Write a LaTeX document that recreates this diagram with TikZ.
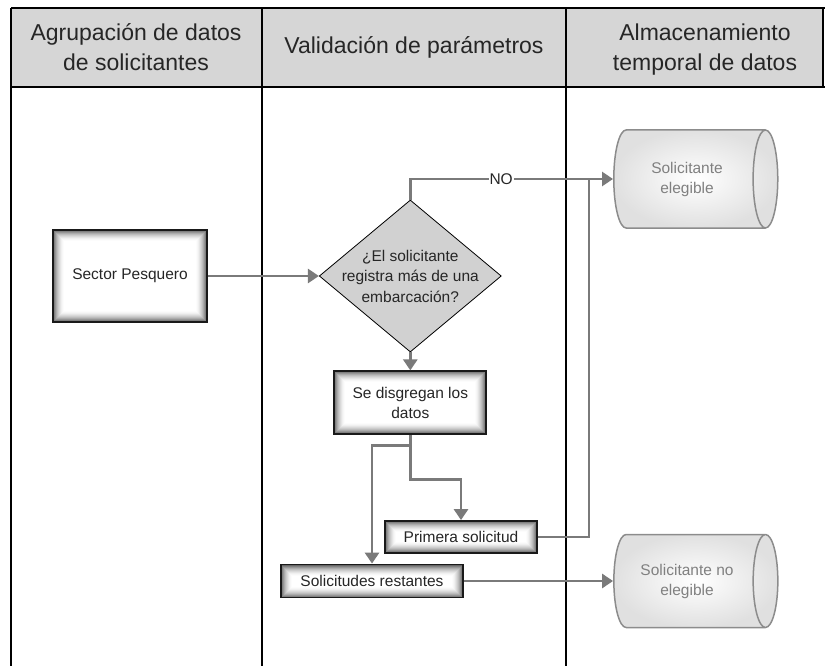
\documentclass[tikz,border=0pt]{standalone}
\usepackage{fontspec}
\setmainfont{Liberation Sans}
\usetikzlibrary{positioning,shapes.geometric,arrows.meta}

\begin{document}
\begin{tikzpicture}[x=1pt,y=-1pt,>={Triangle[length=11pt,width=14pt]},
    conn/.style={draw=black!52,line width=2.8pt},
    head/.style={font=\fontsize{23}{30}\selectfont,align=center,text=black!85},
    glow/.style={path picture={
        \foreach \d [evaluate=\d as \c using {int(60*(1-\d/12)^2)}] in {0,...,11}
            \fill[black!\c] ([shift={(\d pt,\d pt)}]path picture bounding box.south west) rectangle ([shift={(-\d pt,-\d pt)}]path picture bounding box.north east);
        }},
    box node/.style={rectangle,draw=black!90,line width=1.8pt,glow,font=\fontsize{15.5}{20}\selectfont,align=center,text=black!85},
    test node/.style={diamond,draw=black,line width=0.8pt,fill=black!18,aspect=1.2,inner sep=-6pt,minimum width=182pt,minimum height=152pt,font=\fontsize{15.5}{20.5}\selectfont,align=center,text=black!85},
    store node/.style={cylinder,draw=black!45,line width=1.5pt,shading=radial,inner color=white,outer color=black!12,aspect=0.6,minimum height=164pt,font=\fontsize{15.5}{20}\selectfont,align=center,text=black!50}]
                \useasboundingbox (0,0) rectangle (825,666);

                \fill[black!16] (11,8) rectangle (823,87);
                \draw[line width=1.4pt] (11,8) -- (825,8);
                \draw[line width=1.2pt] (11,87) -- (825,87) (823,8) -- (823,87);
                \draw[line width=1.4pt] (11,8) -- (11,666) (262,8) -- (262,666) (566,8) -- (566,666);

                \node[head] (h1) at (136,47) {Agrupación de datos\\de solicitantes};
                \node[head] (h2) at (414,47) {Validación de parámetros};
                \node[head] (h3) at (705,50) {Almacenamiento\\temporal de datos};

                \node[box node,minimum width=154pt,minimum height=92pt] (sector) at (130,276) {Sector Pesquero};
                \node[test node] (dia) [right=111pt of sector] {¿El solicitante\\registra más de una\\embarcación?};
                \node[box node,minimum width=152pt,minimum height=63pt] (dis) [below=18pt of dia] {Se disgregan los\\datos};
                \node[box node,minimum width=152pt,minimum height=32pt] (prim) at (461,537) {Primera solicitud};
                \node[box node,minimum width=182pt,minimum height=33pt] (rest) at (372,581) {Solicitudes restantes};
                \node[store node,minimum width=98pt] (elig) at (687,179) {Solicitante\\elegible};
                \node[store node,minimum width=93pt] (noelig) at (687,581) {Solicitante no\\elegible};
                \coordinate (join) at (589,179);

                \draw[conn,->] (sector) -- (dia);
                \draw[conn,->] (dia.north) |- node[pos=0.724,fill=white,inner sep=1pt,text=black!85,font=\fontsize{15.5}{18}\selectfont] {NO} (elig);
                \draw[conn,->] (dia.south) -- (dis);
                \draw[conn,->] (dis.south) -- ++(0,44) -| (prim.north);
                \draw[conn,->] (dis.south) -- ++(0,10) -| (rest.north);
                \draw[conn] (prim.east) -| (join);
                \draw[conn,->] (rest) -- (noelig);
            \end{tikzpicture}
\end{document}
